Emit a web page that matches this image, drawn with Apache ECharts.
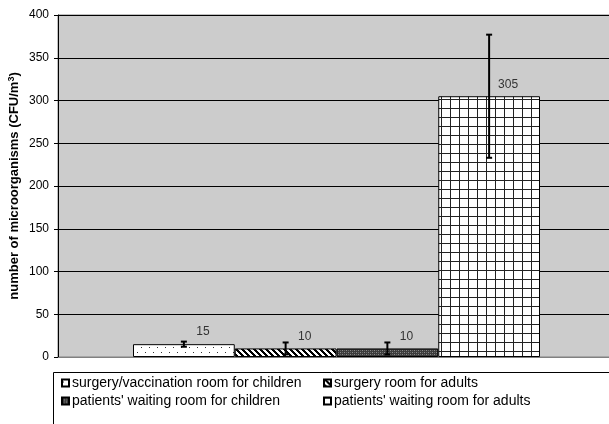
<!DOCTYPE html>
<html><head><meta charset="utf-8">
<script src="https://cdn.jsdelivr.net/npm/echarts@6/dist/echarts.min.js"></script>
<style>html,body{margin:0;padding:0;background:#fff}#c{width:609px;height:424px}</style>
</head><body><div id="c"></div>
<script>
var seriesNames = ['surgery/vaccination room for children', 'surgery room for adults', "patients' waiting room for children", "patients' waiting room for adults"];
var means = [15, 10, 10, 305];
var errLow = [12, 3, 3, 233];
var errHigh = [18, 17, 17, 377];
var yTicks = {min: 0, max: 400, interval: 50};

function makePattern(w, h, draw) {
  var c = document.createElement('canvas'); c.width = w; c.height = h;
  var ctx = c.getContext('2d'); draw(ctx, w, h); return c;
}
var pDots = makePattern(8, 10, function (ctx, w, h) {
  ctx.fillStyle = '#fff'; ctx.fillRect(0, 0, w, h);
  ctx.fillStyle = '#333'; ctx.fillRect(1, 2, 1, 1); ctx.fillRect(5, 7, 1, 1);
});
var pDiag = makePattern(6, 6, function (ctx, w, h) {
  ctx.fillStyle = '#fff'; ctx.fillRect(0, 0, w, h);
  ctx.fillStyle = '#000';
  for (var x = 0; x < w; x++) for (var y = 0; y < h; y++) {
    if ((((x - y) % 6) + 6) % 6 < 3) ctx.fillRect(x, y, 1, 1);
  }
});
var pDark = makePattern(4, 4, function (ctx, w, h) {
  ctx.fillStyle = '#3c3c3c'; ctx.fillRect(0, 0, w, h);
  ctx.fillStyle = '#8c8c8c'; ctx.fillRect(0, 0, 1, 1); ctx.fillRect(2, 2, 1, 1);
  ctx.fillStyle = '#666'; ctx.fillRect(2, 0, 1, 1); ctx.fillRect(0, 2, 1, 1);
});
var pGrid = makePattern(9, 9, function (ctx, w, h) {
  ctx.fillStyle = '#fff'; ctx.fillRect(0, 0, w, h);
  ctx.fillStyle = '#222'; ctx.fillRect(0, 0, w, 1); ctx.fillRect(0, 0, 1, h);
});
var patterns = [pDots, pDiag, pDark, pGrid];

var font = "'Liberation Sans', Arial, sans-serif";
var chart = echarts.init(document.getElementById('c'), null, {renderer: 'canvas'});

var barSeries = seriesNames.map(function (name, i) {
  var data = means.map(function (v, j) { return j === i ? v : '-'; });
  return {
    name: name, type: 'bar', xAxisIndex: 1, yAxisIndex: 1, stack: 'all',
    barWidth: '100%', data: data,
    itemStyle: {color: {image: patterns[i], repeat: 'repeat'}, borderColor: '#000', borderWidth: 1},
    label: {show: true, position: 'top', distance: 5, offset: [19, -1], fontSize: 12, color: '#333', fontFamily: font},
    emphasis: {disabled: true}
  };
});

var errData = means.map(function (v, i) { return [i, errLow[i], errHigh[i]]; });
var errSeries = {
  type: 'custom', xAxisIndex: 1, yAxisIndex: 1, z: 10, data: errData,
  encode: {x: 0, y: [1, 2]},
  renderItem: function (params, api) {
    var x = api.value(0);
    var lo = api.coord([x, api.value(1)]);
    var hi = api.coord([x, api.value(2)]);
    var cap = 3;
    var st = {stroke: '#000', lineWidth: 2};
    return {type: 'group', children: [
      {type: 'line', shape: {x1: lo[0], y1: lo[1], x2: hi[0], y2: hi[1]}, style: st},
      {type: 'line', shape: {x1: lo[0] - cap, y1: lo[1], x2: lo[0] + cap, y2: lo[1]}, style: st},
      {type: 'line', shape: {x1: hi[0] - cap, y1: hi[1], x2: hi[0] + cap, y2: hi[1]}, style: st}
    ]};
  }
};

var legendCommon = {
  orient: 'vertical', icon: 'rect', itemWidth: 7, itemHeight: 7, itemGap: 4, selectedMode: false,
  textStyle: {fontSize: 14, color: '#000', fontFamily: font, padding: [0, 0, 0, -2]}, padding: 0
};

chart.setOption({
  animation: false,
  grid: [
    {left: 58, top: 15, right: -3, bottom: 67, show: true, backgroundColor: '#cccccc', borderColor: '#808080', borderWidth: 1, outerBoundsMode: 'none', containLabel: false},
    {left: 133, top: 15, width: 407, bottom: 67, outerBoundsMode: 'none', containLabel: false}
  ],
  xAxis: [
    {gridIndex: 0, type: 'category', data: [''], axisLine: {lineStyle: {color: '#808080'}}, axisTick: {show: false}, axisLabel: {show: false}},
    {gridIndex: 1, type: 'category', data: ['a', 'b', 'c', 'd'], show: false}
  ],
  yAxis: [
    {gridIndex: 0, type: 'value', min: yTicks.min, max: yTicks.max, interval: yTicks.interval,
     name: 'number of microorganisms (CFU/m{sup|3})', nameLocation: 'middle', nameGap: 36, nameMoveOverlap: false,
     nameTextStyle: {fontSize: 13, fontWeight: 'bold', color: '#000', fontFamily: font,
       rich: {sup: {fontSize: 9, fontWeight: 'bold', color: '#000', fontFamily: font, verticalAlign: 'top', padding: [0, 0, 6, 0]}}},
     axisLine: {show: true, lineStyle: {color: '#000'}},
     axisTick: {show: true, length: 4, lineStyle: {color: '#000'}},
     axisLabel: {fontSize: 12, color: '#000', margin: 9, fontFamily: font},
     splitLine: {lineStyle: {color: '#000', width: 1}}},
    {gridIndex: 1, type: 'value', min: yTicks.min, max: yTicks.max, interval: yTicks.interval, show: false}
  ],
  legend: [
    Object.assign({}, legendCommon, {left: 61, top: 376, data: [seriesNames[0], seriesNames[2]]}),
    Object.assign({}, legendCommon, {left: 323, top: 376, data: [seriesNames[1], seriesNames[3]]})
  ],
  graphic: [{type: 'rect', z: 0, shape: {x: 53.5, y: 372.5, width: 600, height: 80}, style: {fill: '#fff', stroke: '#000', lineWidth: 1}}],
  series: barSeries.concat([errSeries])
});
</script></body></html>
